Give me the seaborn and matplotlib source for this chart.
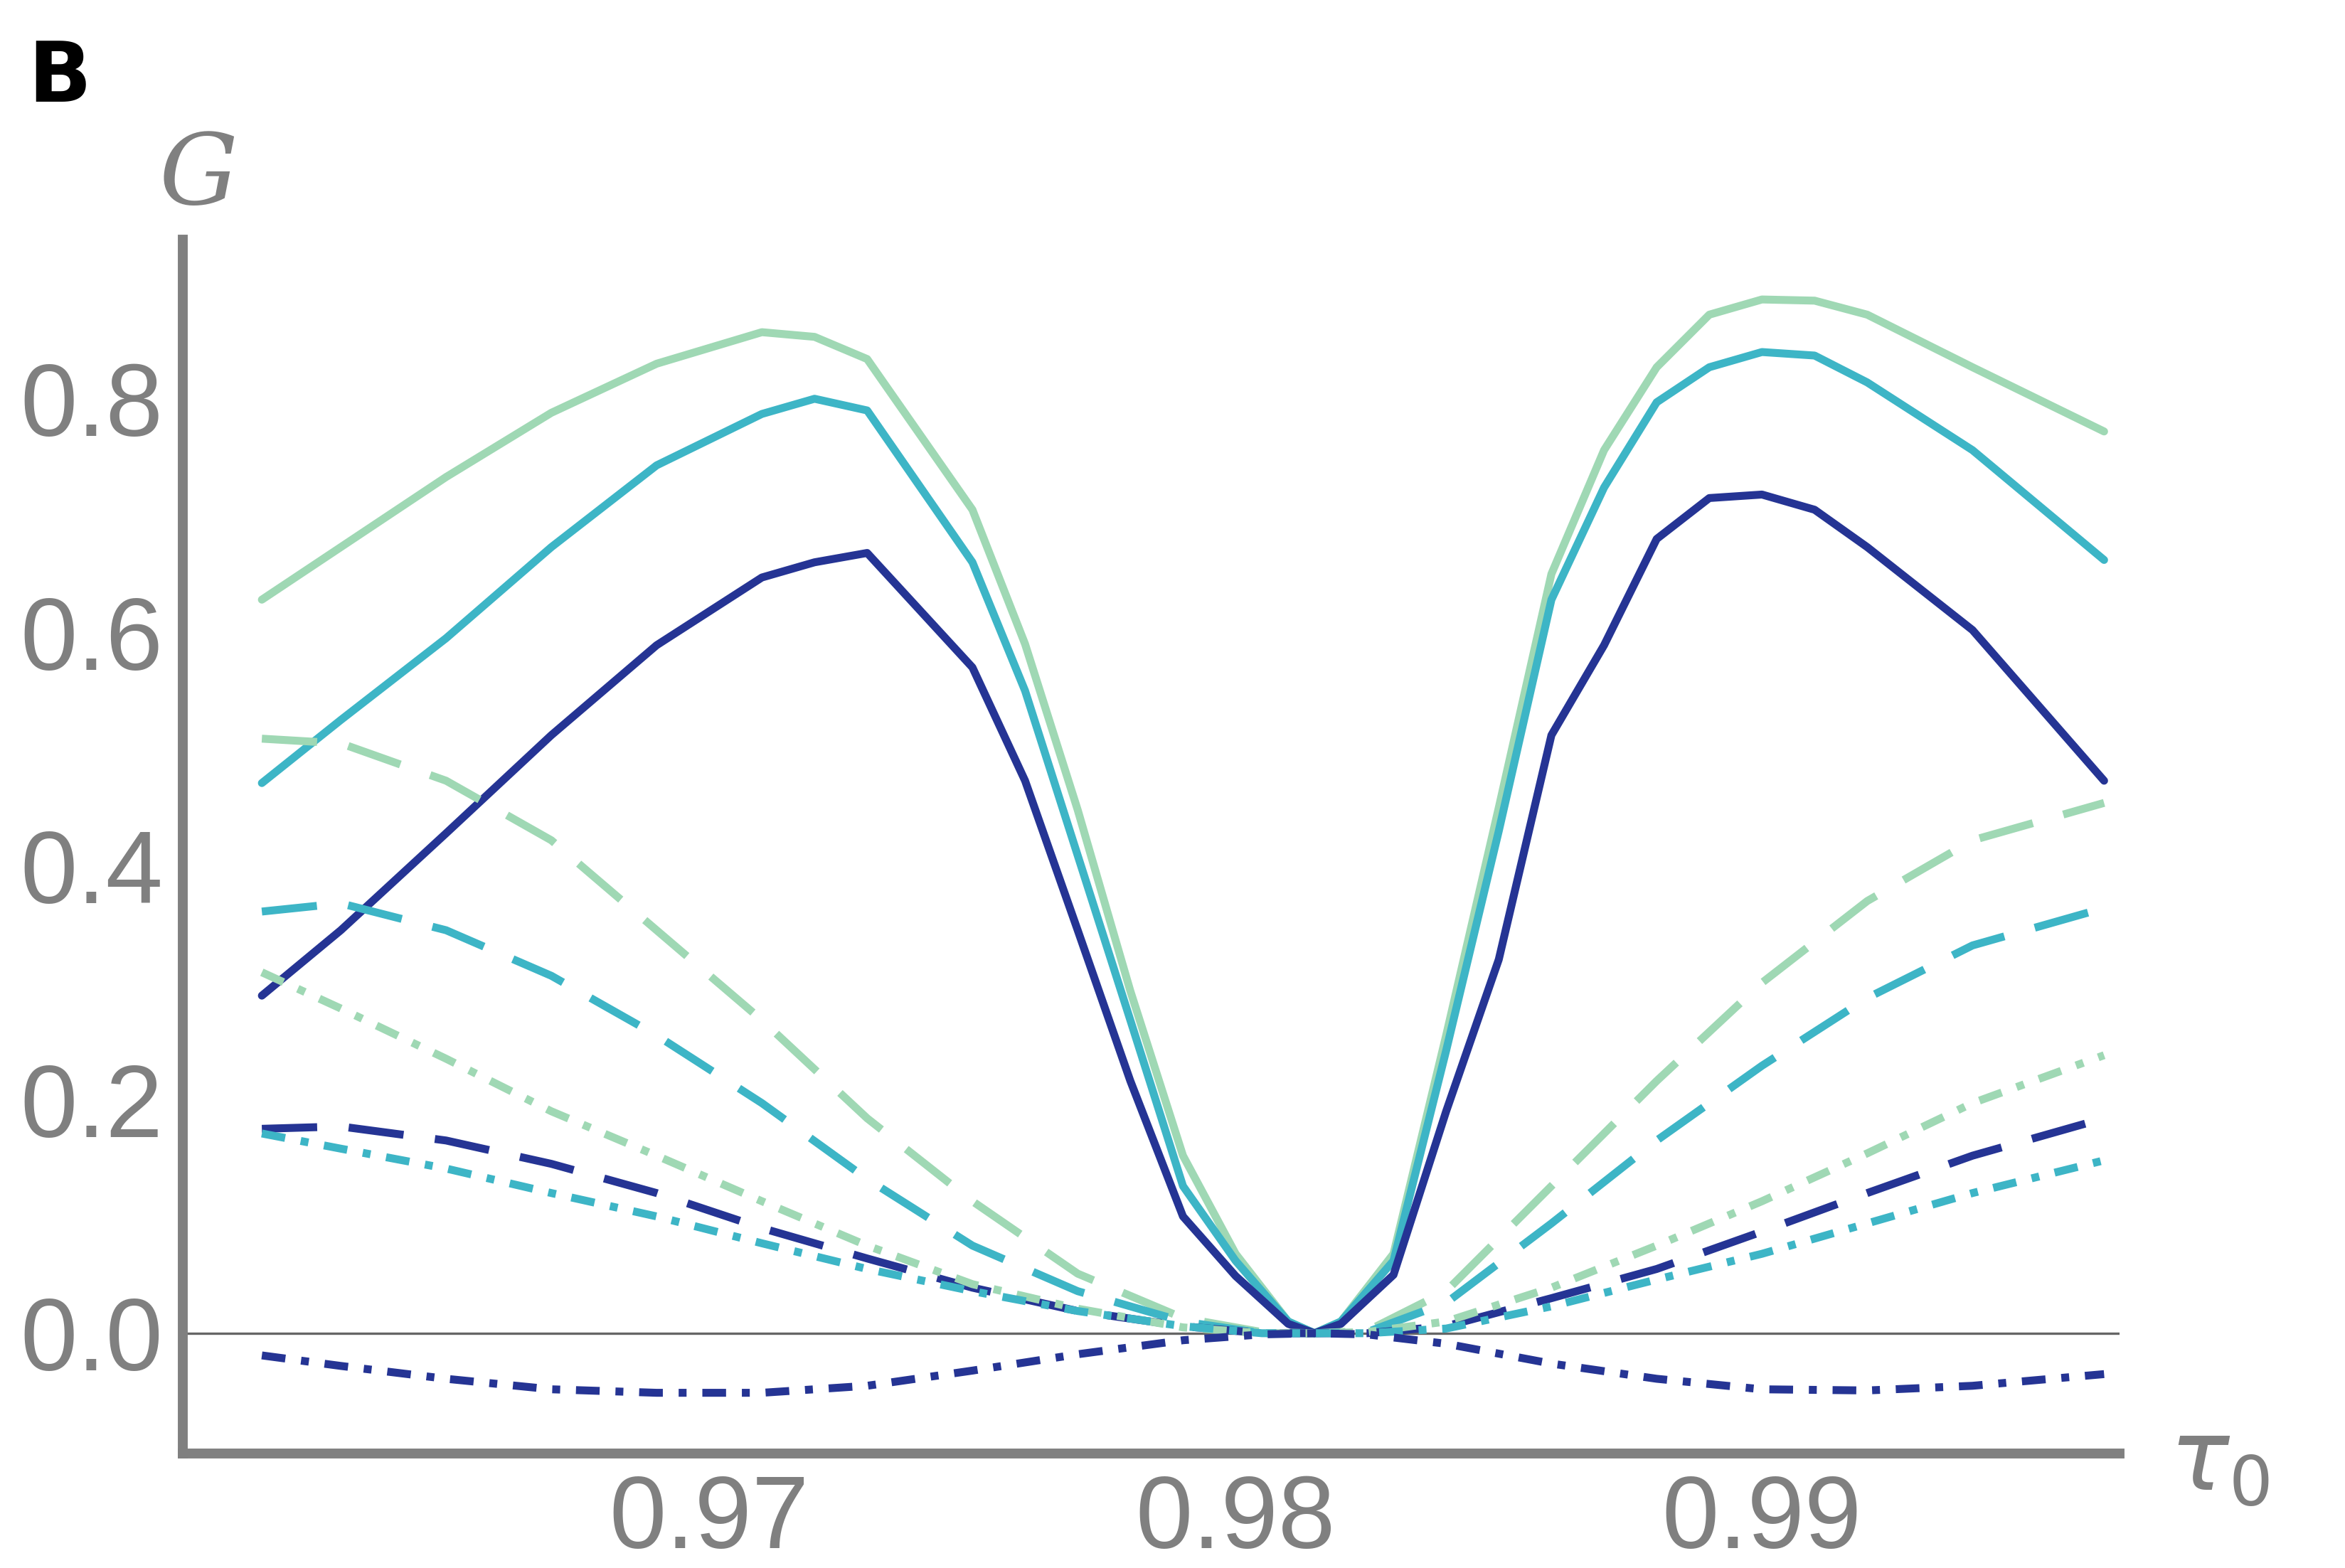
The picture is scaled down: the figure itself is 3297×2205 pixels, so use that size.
import numpy as np
import pandas as pd
import matplotlib.pyplot as plt
import seaborn as sns

tau = [0.9615, 0.963, 0.965, 0.967, 0.969, 0.971, 0.973, 0.975, 0.977, 0.979,
       0.9805, 0.9815, 0.9825, 0.984, 0.986, 0.988, 0.990, 0.992, 0.994, 0.9965]

# denser sampling for the solid curves (sharp dip)
tau_solid = [0.9615, 0.963, 0.965, 0.967, 0.969, 0.971, 0.972, 0.973, 0.975, 0.976,
             0.977, 0.978, 0.979, 0.980, 0.981, 0.9815, 0.982, 0.983, 0.984, 0.985,
             0.986, 0.987, 0.988, 0.989, 0.990, 0.991, 0.992, 0.994, 0.9965]
g_green_solid = [0.628, 0.673, 0.733, 0.788, 0.830, 0.857, 0.853, 0.834, 0.705, 0.590,
                 0.448, 0.293, 0.152, 0.068, 0.010, 0.0, 0.010, 0.068, 0.255, 0.450,
                 0.650, 0.756, 0.827, 0.872, 0.885, 0.884, 0.872, 0.827, 0.772]
g_teal_solid = [0.471, 0.525, 0.595, 0.673, 0.743, 0.787, 0.800, 0.790, 0.660, 0.550,
                0.409, 0.268, 0.126, 0.062, 0.010, 0.0, 0.010, 0.062, 0.242, 0.430,
                0.628, 0.724, 0.797, 0.827, 0.840, 0.837, 0.814, 0.756, 0.662]
g_navy_solid = [0.289, 0.345, 0.428, 0.512, 0.589, 0.647, 0.660, 0.668, 0.570, 0.473,
                0.345, 0.216, 0.100, 0.049, 0.008, 0.0, 0.008, 0.050, 0.190, 0.320,
                0.512, 0.589, 0.680, 0.715, 0.718, 0.705, 0.673, 0.602, 0.473]

g_green_dash = [0.509, 0.505, 0.473, 0.422, 0.345, 0.268, 0.184, 0.113, 0.051, 0.013,
                0.001, 0.0, 0.002, 0.036, 0.126, 0.216, 0.300, 0.370, 0.422, 0.454]
g_teal_dash = [0.361, 0.368, 0.345, 0.306, 0.255, 0.197, 0.132, 0.075, 0.036, 0.010,
               0.0, 0.0, 0.001, 0.026, 0.094, 0.165, 0.229, 0.287, 0.332, 0.364]
g_green_dot = [0.309, 0.278, 0.235, 0.190, 0.152, 0.113, 0.075, 0.042, 0.021, 0.005,
               0.0, 0.0, 0.001, 0.010, 0.039, 0.075, 0.113, 0.154, 0.197, 0.238]
g_navy_dash = [0.175, 0.177, 0.165, 0.145, 0.120, 0.090, 0.064, 0.039, 0.019, 0.006,
               0.0, 0.0, 0.0, 0.006, 0.030, 0.055, 0.087, 0.120, 0.152, 0.184]
g_teal_dot = [0.171, 0.158, 0.141, 0.120, 0.100, 0.077, 0.055, 0.036, 0.019, 0.006,
              0.0, 0.0, 0.0, 0.004, 0.023, 0.046, 0.068, 0.094, 0.120, 0.148]
g_navy_dot = [-0.019, -0.028, -0.039, -0.048, -0.051, -0.051, -0.045, -0.032, -0.018, -0.006,
              -0.001, 0.0, -0.001, -0.009, -0.026, -0.039, -0.048, -0.049, -0.045, -0.035]

GREEN, TEAL, NAVY = "#9fd8b4", "#3db5c6", "#253494"
DASH = (0, (7, 4))
DOT = (0, (3, 2, 1, 2))
series = [
    (tau_solid, g_green_solid, GREEN, "-"), (tau_solid, g_teal_solid, TEAL, "-"),
    (tau_solid, g_navy_solid, NAVY, "-"),
    (tau, g_green_dash, GREEN, DASH), (tau, g_teal_dash, TEAL, DASH),
    (tau, g_navy_dash, NAVY, DASH),
    (tau, g_green_dot, GREEN, DOT), (tau, g_teal_dot, TEAL, DOT),
    (tau, g_navy_dot, NAVY, DOT),
]

sns.set_style("white")
plt.rcParams["font.family"] = ["Liberation Sans", "DejaVu Sans"]
fig = plt.figure(figsize=(16.485, 11.025), dpi=200)
ax = fig.add_axes([0.078, 0.073, 0.826, 0.774])

ax.axhline(0, color="#666666", lw=1.2, zorder=0)
for xs, vals, col, ls in series:
    df = pd.DataFrame({"tau": xs, "G": vals})
    sns.lineplot(data=df, x="tau", y="G", ax=ax, color=col, lw=4, linestyle=ls)

ax.set_xlim(0.96, 0.9968)
ax.set_ylim(-0.103, 0.936)
ax.set_xticks([0.97, 0.98, 0.99])
ax.set_yticks([0.0, 0.2, 0.4, 0.6, 0.8])
ax.set_xticklabels(["0.97", "0.98", "0.99"])
ax.set_yticklabels(["0.0", "0.2", "0.4", "0.6", "0.8"])
ax.set_xlabel("")
ax.set_ylabel("")
ax.tick_params(colors="#808080", labelsize=52, length=6, width=2, direction="in", pad=10)
for s in ["top", "right"]:
    ax.spines[s].set_visible(False)
for s in ["left", "bottom"]:
    ax.spines[s].set_color("#808080")
    ax.spines[s].set_linewidth(5)

fig.text(0.068, 0.87, "G", fontsize=50, color="#808080", style="italic",
         family="DejaVu Serif")
fig.text(0.925, 0.05, r"$\tau_0$", fontsize=50, color="#808080")
fig.text(0.012, 0.935, "B", fontsize=42, fontweight="bold", color="black",
         family="DejaVu Sans")

fig.savefig("out.png", dpi=200)
